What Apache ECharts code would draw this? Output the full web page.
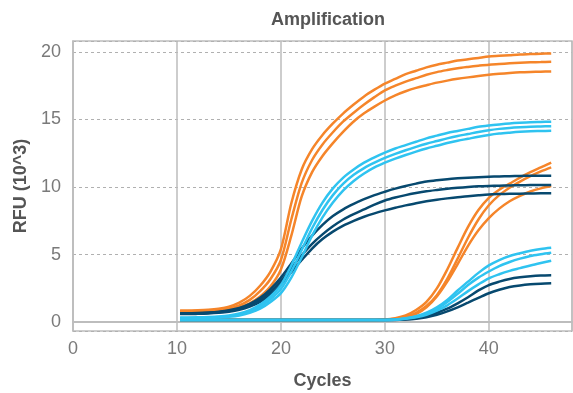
<!DOCTYPE html>
<html>
<head>
<meta charset="utf-8">
<script src="https://cdn.jsdelivr.net/npm/echarts@6/dist/echarts.min.js"></script>
<style>html,body{margin:0;padding:0;background:#fff}#c{width:573px;height:393px}</style>
</head>
<body>
<div id="c"></div>
<script>
// Cycles for early (group A) and late (group B) curves
var cyclesA = [10.3,11,12,13,14,15,16,17,18,19,20,21,22,23,24,25,26,27,28,29,30,31,32,33,34,35,36,37,38,39,40,41,42,43,44,45,46];
var cyclesB = [10.3, 20, 29, 30, 31, 32, 33, 34, 35, 36, 37, 38, 39, 40, 41, 42, 43, 44, 45, 46];

// Group A (early amplification), RFU x10^3
var orangeA1 = [0.86,0.86,0.88,0.92,1.0,1.15,1.45,1.95,2.7,3.75,5.4,8.8,11.3,12.8,13.85,14.7,15.45,16.1,16.7,17.2,17.65,18.0,18.35,18.6,18.85,19.05,19.2,19.35,19.45,19.55,19.65,19.7,19.75,19.8,19.83,19.86,19.88];
var orangeA2 = [0.82,0.82,0.83,0.86,0.92,1.03,1.25,1.65,2.3,3.2,4.6,7.6,10.3,12.0,13.15,14.05,14.85,15.5,16.1,16.65,17.15,17.5,17.8,18.05,18.3,18.5,18.65,18.78,18.88,18.97,19.05,19.1,19.15,19.19,19.22,19.24,19.26];
var orangeA3 = [0.78,0.78,0.79,0.81,0.85,0.93,1.1,1.4,1.9,2.65,3.9,6.4,9.3,11.1,12.3,13.25,14.1,14.85,15.45,15.95,16.4,16.78,17.08,17.33,17.53,17.72,17.87,18.0,18.11,18.21,18.3,18.37,18.43,18.48,18.51,18.53,18.55];
var lightA1 = [0.35,0.35,0.36,0.38,0.42,0.5,0.65,0.9,1.3,1.9,2.75,4.2,5.9,7.5,8.85,9.9,10.7,11.3,11.8,12.2,12.55,12.85,13.1,13.35,13.6,13.8,14.0,14.15,14.3,14.45,14.55,14.63,14.7,14.75,14.79,14.81,14.83];
var lightA2 = [0.32,0.32,0.33,0.35,0.38,0.45,0.58,0.8,1.15,1.7,2.45,3.75,5.35,6.95,8.3,9.4,10.25,10.9,11.4,11.8,12.15,12.45,12.72,12.97,13.2,13.4,13.6,13.77,13.92,14.07,14.2,14.3,14.37,14.42,14.46,14.48,14.5];
var lightA3 = [0.3,0.3,0.3,0.32,0.35,0.4,0.5,0.7,1.0,1.5,2.15,3.3,4.8,6.4,7.75,8.85,9.75,10.45,11.0,11.45,11.8,12.1,12.37,12.62,12.85,13.05,13.25,13.42,13.57,13.72,13.85,13.95,14.02,14.08,14.12,14.14,14.16];
var darkA1 = [0.66,0.66,0.68,0.72,0.78,0.88,1.05,1.35,1.8,2.45,3.3,4.35,5.45,6.4,7.2,7.85,8.35,8.75,9.1,9.4,9.65,9.88,10.08,10.25,10.4,10.5,10.58,10.64,10.69,10.73,10.76,10.78,10.8,10.82,10.83,10.84,10.84];
var darkA2 = [0.63,0.63,0.65,0.69,0.74,0.83,0.98,1.25,1.65,2.25,3.05,4.0,4.95,5.8,6.5,7.1,7.6,8.0,8.35,8.7,9.0,9.22,9.4,9.55,9.68,9.78,9.87,9.94,10.0,10.05,10.08,10.1,10.12,10.13,10.14,10.15,10.15];
var darkA3 = [0.6,0.6,0.62,0.65,0.7,0.78,0.92,1.15,1.5,2.05,2.8,3.7,4.6,5.45,6.15,6.7,7.15,7.5,7.8,8.05,8.27,8.47,8.64,8.8,8.94,9.06,9.16,9.25,9.32,9.39,9.45,9.48,9.5,9.51,9.52,9.53,9.53];

// Group B (late amplification)
var orangeB1 = [0.17,0.17,0.17,0.2,0.3,0.5,0.9,1.5,2.5,3.9,5.5,7.05,8.3,9.2,9.8,10.25,10.7,11.1,11.45,11.8];
var orangeB2 = [0.17,0.17,0.17,0.18,0.25,0.4,0.7,1.2,2.0,3.2,4.7,6.25,7.6,8.65,9.4,9.95,10.4,10.8,11.15,11.45];
var orangeB3 = [0.17,0.17,0.17,0.17,0.22,0.35,0.6,1.1,1.9,3.0,4.3,5.65,6.8,7.7,8.4,8.95,9.35,9.67,9.9,10.07];
var lightB1 = [0.17,0.17,0.17,0.17,0.2,0.3,0.45,0.7,1.1,1.65,2.35,3.0,3.65,4.2,4.6,4.9,5.1,5.28,5.42,5.51];
var lightB2 = [0.17,0.17,0.17,0.17,0.19,0.27,0.4,0.62,0.98,1.5,2.1,2.75,3.3,3.75,4.15,4.45,4.7,4.9,5.03,5.14];
var lightB3 = [0.17,0.17,0.17,0.17,0.18,0.25,0.37,0.55,0.85,1.25,1.75,2.3,2.8,3.25,3.55,3.8,4.0,4.2,4.38,4.55];
var darkB1 = [0.17,0.17,0.17,0.17,0.18,0.22,0.3,0.45,0.7,1.0,1.4,1.85,2.35,2.75,3.0,3.2,3.32,3.4,3.45,3.47];
var darkB2 = [0.17,0.17,0.17,0.17,0.17,0.2,0.26,0.37,0.55,0.8,1.1,1.45,1.8,2.14,2.4,2.6,2.72,2.8,2.85,2.88];

var ORANGE = '#f5852a', LIGHT = '#2fc3f0', DARK = '#07496f';

function pair(xs, ys) { return xs.map(function (x, i) { return [x, ys[i]]; }); }
function mk(xs, ys, color) {
  return {
    type: 'line', data: pair(xs, ys), showSymbol: false, symbol: 'none',
    smooth: 0.3,
    lineStyle: { color: color, width: 2.5 }, itemStyle: { color: color },
    silent: true
  };
}

var series = [
  mk(cyclesB, orangeB1, ORANGE), mk(cyclesB, orangeB2, ORANGE), mk(cyclesB, orangeB3, ORANGE),
  mk(cyclesA, orangeA1, ORANGE), mk(cyclesA, orangeA2, ORANGE), mk(cyclesA, orangeA3, ORANGE),
  mk(cyclesB, darkB1, DARK), mk(cyclesB, darkB2, DARK),
  mk(cyclesA, darkA1, DARK), mk(cyclesA, darkA2, DARK), mk(cyclesA, darkA3, DARK),
  mk(cyclesB, lightB1, LIGHT), mk(cyclesB, lightB2, LIGHT), mk(cyclesB, lightB3, LIGHT),
  mk(cyclesA, lightA1, LIGHT), mk(cyclesA, lightA2, LIGHT), mk(cyclesA, lightA3, LIGHT)
];

var chart = echarts.init(document.getElementById('c'), null, { renderer: 'canvas' });
chart.setOption({
  animation: false,
  backgroundColor: '#ffffff',
  title: {
    text: 'Amplification', left: 323, top: 6, textAlign: 'center',
    textStyle: { fontFamily: 'Liberation Sans', fontSize: 18, fontWeight: 'bold', color: '#555' }
  },
  grid: { left: 73, right: 1, top: 41, bottom: 62, show: true, borderColor: '#bdbdbd', borderWidth: 1.5, containLabel: false, outerBoundsMode: 'none' },
  xAxis: {
    type: 'value', min: 0, max: 48, interval: 10,
    name: 'Cycles', nameLocation: 'middle', nameGap: 41,
    nameTextStyle: { fontFamily: 'Liberation Sans', fontSize: 18, fontWeight: 'bold', color: '#555' },
    axisLine: { show: true, lineStyle: { color: '#bdbdbd', width: 2 } },
    axisTick: { show: false },
    axisLabel: { showMaxLabel: false, margin: 9, fontFamily: 'Liberation Sans', fontSize: 18, color: '#7a7a7a' },
    splitLine: { show: true, lineStyle: { color: '#bdbdbd', width: 1.5, type: 'solid' } }
  },
  yAxis: {
    type: 'value', min: -0.65, max: 20.8, splitNumber: 5,
    name: 'RFU (10^3)', nameLocation: 'middle', nameGap: 41,
    nameTextStyle: { fontFamily: 'Liberation Sans', fontSize: 18, fontWeight: 'bold', color: '#555' },
    axisLine: { show: true, lineStyle: { color: '#bdbdbd', width: 1.5 } },
    axisTick: { show: false },
    axisLabel: { showMinLabel: false, showMaxLabel: false, margin: 12, fontFamily: 'Liberation Sans', fontSize: 18, color: '#7a7a7a' },
    splitLine: { show: true, lineStyle: { color: '#b0b0b0', width: 1, type: [3, 3] } }
  },
  series: series
});
</script>
</body>
</html>
